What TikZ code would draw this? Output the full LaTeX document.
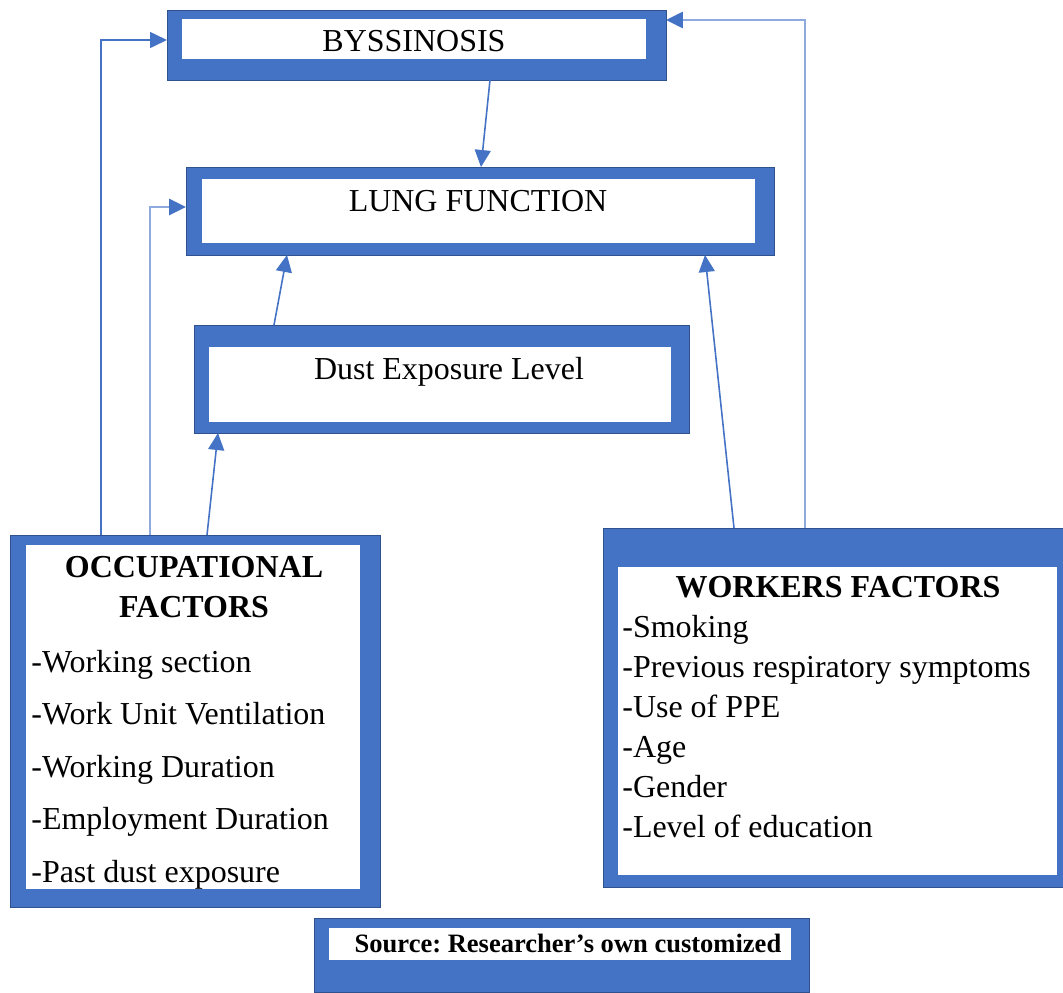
\documentclass[tikz,border=0pt]{standalone}
\usepackage{fontspec}
\setmainfont{Liberation Serif}
\usetikzlibrary{arrows.meta,fit}
\definecolor{boxblue}{HTML}{4472C4}
\definecolor{boxedge}{HTML}{2F528F}
\definecolor{paleblue}{HTML}{8FAADC}
\frenchspacing

\begin{document}
\begin{tikzpicture}[x=0.02cm,y=-0.02cm,
		outerbox/.style={fill=boxblue,draw=boxedge,line width=0.3pt,inner sep=0pt,outer sep=0pt},
		hole/.style={fill=white},
		txt/.style={font=\fontsize{18.2pt}{22pt}\selectfont,inner sep=0pt},
		boxtitle/.style={font=\fontsize{18.2pt}{22pt}\selectfont\bfseries,inner sep=0pt},
		link/.style={boxblue,line width=0.9pt,-{Triangle[length=0.34cm,width=0.32cm]}},
		palelink/.style={paleblue,line width=1.6pt,-{Triangle[length=0.34cm,width=0.32cm,color=boxblue]}}
	]
		\useasboundingbox (0,0) rectangle (1063,992);
		
		%boxes
			\node[outerbox, fit={(167,10) (666,80)}] (byss) {};
			\fill[hole] (182,19) rectangle (646,59);
			\node[txt, anchor=base] (byssname) at (414,51) {BYSSINOSIS};
			
			\node[outerbox, fit={(186,167) (774,255)}] (lung) {};
			\fill[hole] (202,179) rectangle (755,243);
			\node[txt, anchor=base] (lungname) at (478,211) {LUNG FUNCTION};
			
			\node[outerbox, fit={(194,325) (689,433)}] (dust) {};
			\fill[hole] (209,347) rectangle (671,422);
			\node[txt, anchor=base] (dustname) at (449,379) {Dust Exposure Level};
			
		%occupational factors
			\node[outerbox, fit={(10,535) (380,907)}] (occ) {};
			\fill[hole] (26,545) rectangle (360,889);
			\node[boxtitle, anchor=base] (occname) at (194,577) {OCCUPATIONAL};
			\node[boxtitle, anchor=base] (occname2) at (194,617) {FACTORS};
			\foreach \t [count=\i from 0] in {-Working section, -Work Unit Ventilation, -Working Duration, -Employment Duration, -Past dust exposure}{
				\node[txt, anchor=base west] (occitem\i) at (31, {672+52.5*\i}) {\t};
			}
			
		%workers factors
			\node[outerbox, fit={(603,528) (1063,887)}] (work) {};
			\fill[hole] (618,567) rectangle (1057,875);
			\node[boxtitle, anchor=base] (workname) at (838,597) {WORKERS FACTORS};
			\foreach \t [count=\i from 0] in {-Smoking, -Previous respiratory symptoms, -Use of PPE, -Age, -Gender, -Level of education}{
				\node[txt, anchor=base west] (workitem\i) at (622, {637+40*\i}) {\t};
			}
			
		%source
			\node[outerbox, fit={(314,918) (809,992)}] (src) {};
			\fill[hole] (329,928) rectangle (791,960);
			\node[boxtitle, font=\fontsize{15.1pt}{18pt}\selectfont\bfseries, anchor=base] (srcname) at (568,952) {Source: Researcher’s own customized};
			
		%arrows
			\draw[link] (101,0 |- occ.north) |- (byss.west |- 0,40);
			\draw[palelink] (150,0 |- occ.north) |- (lung.west |- 0,207);
			\draw[link] (207,0 |- occ.north) -- (218,0 |- dust.south);
			\draw[link] (274,0 |- dust.north) -- (287,0 |- lung.south);
			\draw[link] (490,0 |- byss.south) -- (481,0 |- lung.north);
			\draw[link] (734,0 |- work.north) -- (705,0 |- lung.south);
			\draw[palelink] (805,0 |- work.north) |- (byss.east |- 0,20);
		\end{tikzpicture}
\end{document}
